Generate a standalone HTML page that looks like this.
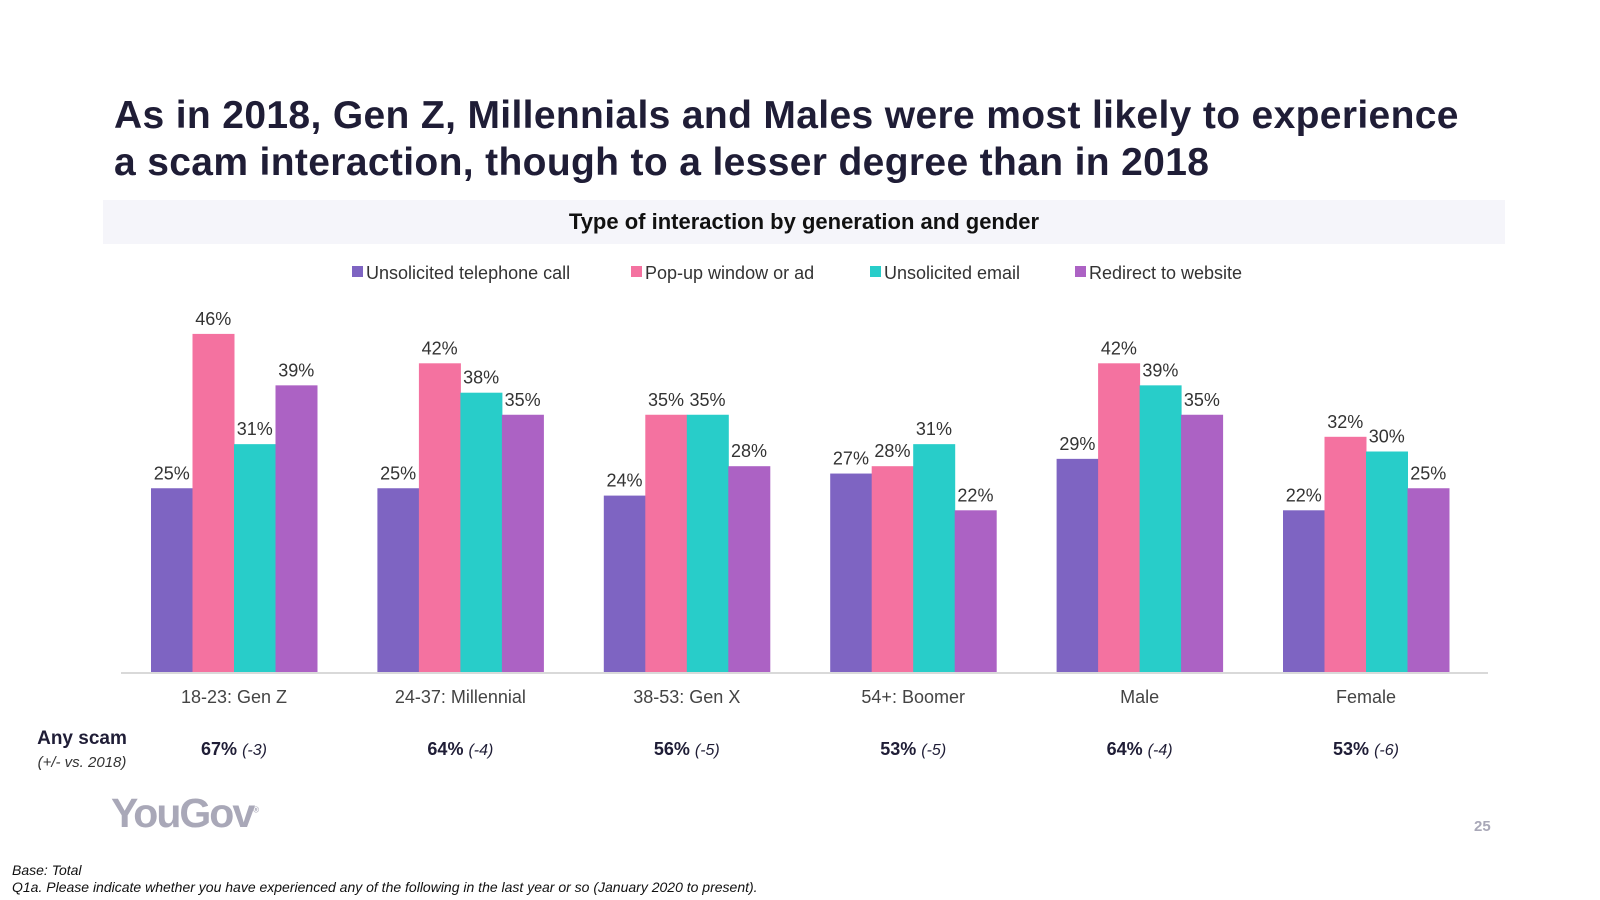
<!DOCTYPE html>
<html><head><meta charset="utf-8"><style>
body{margin:0;width:1600px;height:900px;background:#fff;font-family:"Liberation Sans",sans-serif;position:relative;overflow:hidden}
.abs{position:absolute}
</style></head><body>
<div class="abs" style="left:114px;top:92px;font-size:39px;font-weight:bold;color:#1f1d36;line-height:47px;width:1372px;letter-spacing:0.35px">As in 2018, Gen Z, Millennials and Males were most likely to experience a scam interaction, though to a lesser degree than in 2018</div>
<div class="abs" style="left:103px;top:200px;width:1402px;height:44px;background:#f5f5fa;text-align:center;font-size:22px;font-weight:bold;color:#111;line-height:44px">Type of interaction by generation and gender</div>
<svg class="abs" style="left:0;top:0" width="1600" height="900" id="chart"></svg>
<div class="abs" style="left:111px;top:790px;font-size:41px;font-weight:bold;color:#a9a8b8;letter-spacing:-2px">YouGov<sup style="font-size:8px;letter-spacing:0">®</sup></div>
<div class="abs" style="left:1474px;top:818px;font-size:15px;font-weight:bold;color:#a9a8b8">25</div>
<div class="abs" style="left:12px;top:862px;font-size:14px;font-style:italic;color:#111;line-height:17px">Base: Total<br>Q1a. Please indicate whether you have experienced any of the following in the last year or so (January 2020 to present).</div>
<script>
const categories=["18-23: Gen Z","24-37: Millennial","38-53: Gen X","54+: Boomer","Male","Female"];
const seriesNames=["Unsolicited telephone call","Pop-up window or ad","Unsolicited email","Redirect to website"];
const phone=[25,25,24,27,29,22];
const popup=[46,42,35,28,42,32];
const email=[31,38,35,31,39,30];
const redirect=[39,35,28,22,35,25];
const anyScam=[67,64,56,53,64,53];
const anyScamDelta=[-3,-4,-5,-5,-4,-6];
const colors=["#7e64c2","#f472a0","#28cdc9","#ac62c4"];
const series=[phone,popup,email,redirect];
const svg=document.getElementById('chart');
const NS="http://www.w3.org/2000/svg";
const base=672,ppu=7.35,c0=234,gap=226.4,bw=41.5;
const y=v=>base-v*ppu;
const xc=i=>c0+i*gap;
function mk(t,a){const e=document.createElementNS(NS,t);for(const k in a)e.setAttribute(k,a[k]);svg.appendChild(e);return e;}
let lx=[352,631,870,1075];
seriesNames.forEach((n,s)=>{
 const r=mk('rect',{x:lx[s],y:266,width:11,height:11,fill:colors[s]});
 
 
 const t=mk('text',{x:lx[s]+14,y:279,'font-size':18,fill:'#333'});t.textContent=n;
 
 
});
categories.forEach((c,i)=>{
 const left=xc(i)-2*bw;
 series.forEach((arr,s)=>{
  const r=mk('rect',{x:left+s*bw,y:y(arr[i]),width:bw+0.5,height:arr[i]*ppu,fill:colors[s]});
  
  
  const t=mk('text',{x:left+s*bw+bw/2,y:y(arr[i])-9,'font-size':18,fill:'#333','text-anchor':'middle'});
  t.textContent=arr[i]+'%';
  
  
 });
 const t=mk('text',{x:xc(i),y:703,'font-size':18,fill:'#444','text-anchor':'middle'});t.textContent=c;
 
 
 const a=mk('text',{x:xc(i),y:755,'font-size':18,fill:'#1f1d36','text-anchor':'middle'});
 
 
 a.innerHTML='<tspan font-weight="bold">'+anyScam[i]+'%</tspan> <tspan font-style="italic" font-size="16">('+anyScamDelta[i]+')</tspan>';
});
const ax=mk('line',{x1:121,x2:1488,y1:base+1,y2:base+1,stroke:'#d9d9d9','stroke-width':2});


const l1=mk('text',{x:82,y:744,'font-size':19,'font-weight':'bold',fill:'#1f1d36','text-anchor':'middle'});l1.textContent='Any scam';


const l2=mk('text',{x:82,y:767,'font-size':15,'font-style':'italic',fill:'#333','text-anchor':'middle'});l2.textContent='(+/- vs. 2018)';


</script>
</body></html>
